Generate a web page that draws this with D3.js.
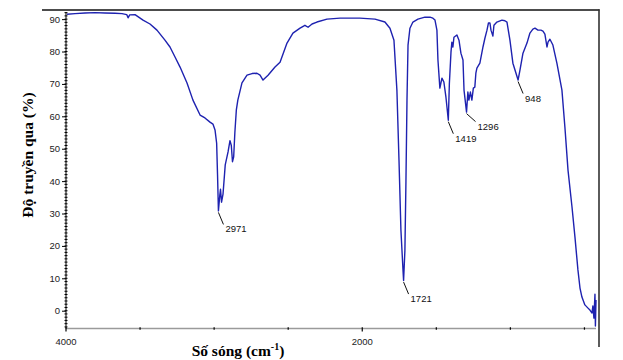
<!DOCTYPE html>
<html><head><meta charset="utf-8">
<script src="https://cdn.jsdelivr.net/npm/d3@7"></script>
<style>body{margin:0;background:#fff;}svg{display:block;}</style>
</head><body>
<svg id="c" width="623" height="360"></svg>
<script>
// ---- data ----
const wavenumber = [3993,3939,3872,3804,3737,3669,3622,3590,3581,3570,3534,3480,3433,3386,3332,3298,3264,3230,3183,3143,3095,3062,3028,3008,2994,2983,2977,2971,2962,2957,2950,2940,2925,2906,2893,2884,2876,2868,2860,2850,2840,2812,2778,2744,2711,2690,2670,2636,2589,2555,2508,2468,2420,2387,2366,2339,2306,2238,2150,2016,1914,1847,1813,1786,1766,1752,1739,1725,1721,1712,1705,1698,1691,1678,1658,1624,1577,1543,1523,1509,1496,1489,1476,1462,1449,1435,1419,1412,1401,1395,1388,1381,1361,1347,1334,1320,1313,1296,1287,1280,1270,1260,1250,1240,1233,1226,1206,1185,1172,1158,1148,1138,1131,1118,1111,1091,1057,1037,1023,1003,983,948,935,915,888,868,848,834,814,794,780,767,753,746,733,713,686,652,632,611,584,564,544,530,517,497,476,463,449,443,436,429,426,422];
const transmittance = [91.5,91.7,91.9,92.0,91.9,91.8,91.7,91.4,90.4,91.3,91.4,89.7,88.5,86.6,83.5,81.4,78.3,75.2,70.3,65.0,60.4,59.5,58.2,57.6,55.8,51.7,42.0,30.8,35.5,37.5,33.5,36.0,45.0,49.0,52.5,51.0,46.0,47.5,55.0,62.0,65.0,70.3,72.7,73.2,73.3,72.7,71.2,72.7,75.2,76.7,82.6,85.7,87.2,88.1,87.5,88.5,89.1,90.0,90.3,90.3,90.0,89.1,87.2,83.5,68.0,46.5,24.9,12.6,9.3,18.7,40.0,65.0,82.0,87.2,89.1,90.0,90.6,90.6,90.3,89.7,86.6,77.4,68.7,71.8,70.6,65.9,58.8,70.0,79.8,82.9,81.4,84.4,85.1,83.5,79.5,77.4,68.1,61.3,67.5,65.0,67.5,65.0,68.7,69.0,73.3,74.9,76.4,81.4,84.1,86.6,88.8,88.8,86.6,84.8,88.1,89.1,89.7,89.5,89.1,83.5,76.4,71.2,74.3,79.5,82.6,85.7,86.9,87.2,86.6,86.6,86.3,85.4,81.4,82.9,83.8,82.0,76.4,68.1,56.7,43.4,32.0,22.7,12.6,7.0,4.2,1.8,0.8,0.2,-0.7,1.5,-2.3,5.1,-4.7,3.3];
const peakWavenumbers = [2971,1721,1419,1296,948];
const peakValues = [30.8,9.3,58.8,61.3,71.2];
const yTickValues = [0,10,20,30,40,50,60,70,80,90];
const xTickLabels = [4000,2000];
const xMinorTicks = [4000,3500,3000,2500,2000,1500,1000,500];

// ---- layout ----
const svg = d3.select("#c");
const x = d3.scaleLinear().domain([4000,422]).range([66,596]);
const y = d3.scaleLinear().domain([-5.43,92.2]).range([328.3,12]);

// frame lines (top & right)
svg.append("line").attr("x1",42).attr("x2",599.5).attr("y1",10).attr("y2",10)
  .attr("stroke","#111").attr("stroke-width",1.6);
svg.append("line").attr("x1",599).attr("x2",599).attr("y1",9.2).attr("y2",347)
  .attr("stroke","#333").attr("stroke-width",1.6);

// x axis
svg.append("line").attr("x1",66).attr("x2",596).attr("y1",328.5).attr("y2",328.5)
  .attr("stroke","#9a9a9a").attr("stroke-width",1.6);
svg.append("g").selectAll("line").data(xMinorTicks).join("line")
  .attr("x1",d=>x(d)).attr("x2",d=>x(d))
  .attr("y1",327.3).attr("y2",d=>xTickLabels.includes(d)?331.5:329.7)
  .attr("stroke","#000").attr("stroke-width",1.2);
svg.append("g").selectAll("text").data(xTickLabels).join("text")
  .attr("x",d=>x(d)).attr("y",344.5).attr("text-anchor","middle")
  .attr("font-family","Liberation Sans, Arial, sans-serif").attr("font-size",9.5)
  .attr("fill","#222").text(d=>d);

// y axis
const yAxis = d3.axisLeft(y).tickValues(yTickValues).tickSize(4).tickPadding(2);
const gy = svg.append("g").attr("transform","translate(66,0)").call(yAxis);
gy.select(".domain").remove();
gy.selectAll(".tick line").attr("stroke","#000").attr("stroke-width",1);
gy.selectAll(".tick text").attr("font-family","Liberation Sans, Arial, sans-serif")
  .attr("font-size",9.5).attr("fill","#222");
svg.append("line").attr("x1",66).attr("x2",66).attr("y1",12).attr("y2",328.5)
  .attr("stroke","#000").attr("stroke-width",1);
const yMinor = d3.range(-5,93,1);
svg.append("g").selectAll("line").data(yMinor).join("line")
  .attr("x1",64.5).attr("x2",67.5).attr("y1",d=>y(d)).attr("y2",d=>y(d))
  .attr("stroke","#000").attr("stroke-width",1);

// spectrum line
const pts = wavenumber.map((w,i)=>[w,transmittance[i]]);
svg.append("path").datum(pts)
  .attr("d", d3.line().x(d=>x(d[0])).y(d=>y(d[1])))
  .attr("fill","none").attr("stroke","#1e22b0").attr("stroke-width",1.4)
  .attr("stroke-linejoin","round");

// peak annotations
const ann = svg.append("g");
peakWavenumbers.forEach((w,i)=>{
  const px = x(w), py = y(peakValues[i]) + 1.5;
  const lx = i===3 ? 9 : 5, ly = i===3 ? 8 : 12;
  ann.append("line").attr("x1",px).attr("y1",py).attr("x2",px+lx).attr("y2",py+ly)
    .attr("stroke","#111").attr("stroke-width",1);
  ann.append("text").attr("x",px+lx+2).attr("y",py+ly+8)
    .attr("font-family","Liberation Sans, Arial, sans-serif").attr("font-size",9.5)
    .attr("fill","#111").text(w);
});

// titles
svg.append("text").attr("transform","translate(33,155) rotate(-90)")
  .attr("text-anchor","middle").attr("font-family","Liberation Serif, Times New Roman, serif")
  .attr("font-weight","bold").attr("font-size",15.5).attr("fill","#000")
  .text("Độ truyền qua (%)");
const xt = svg.append("text").attr("x",238).attr("y",356).attr("text-anchor","middle")
  .attr("font-family","Liberation Serif, Times New Roman, serif")
  .attr("font-weight","bold").attr("font-size",15.5).attr("fill","#000");
xt.append("tspan").text("Số sóng (cm");
xt.append("tspan").attr("font-size",10).attr("dy",-6).text("-1");
xt.append("tspan").attr("dy",6).text(")");
</script>
</body></html>
